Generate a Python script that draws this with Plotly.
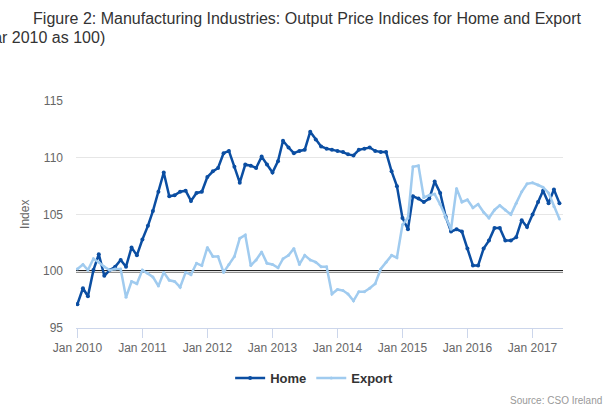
import pandas as pd
import plotly.graph_objects as go

months = pd.date_range("2010-01-01", "2017-06-01", freq="MS")

home = [97.1, 98.5, 97.8, 100.1, 101.5, 99.6, 100.1, 100.4, 101.0, 100.4, 102.1, 101.4,
        102.8, 104.0, 105.3, 107.0, 108.7, 106.6, 106.7, 107.0, 107.1, 106.2, 106.9, 107.0,
        108.3, 108.8, 109.1, 110.4, 110.6, 109.2, 107.8, 109.4, 109.3, 109.1, 110.1, 109.4,
        108.7, 109.7, 111.5, 110.9, 110.4, 110.6, 110.7, 112.3, 111.6, 111.0, 110.8, 110.7,
        110.6, 110.5, 110.3, 110.2, 110.7, 110.8, 110.9, 110.6, 110.5, 110.5, 108.8, 107.5,
        104.7, 103.7, 106.6, 106.4, 106.1, 106.4, 107.9, 106.9, 104.8, 103.5, 103.7, 103.5,
        102.0, 100.5, 100.5, 102.0, 102.7, 103.8, 103.8, 102.7, 102.7, 103.0, 104.5, 103.9,
        105.0, 106.1, 107.1, 106.0, 107.2, 106.0]

export = [100.2, 100.6, 100.1, 101.1, 100.8, 100.4, 100.1, 100.2, 100.2, 97.7, 99.1, 98.9,
          100.1, 99.8, 99.5, 98.7, 99.9, 99.2, 99.1, 98.6, 99.9, 99.7, 100.7, 100.5,
          102.1, 101.3, 101.3, 99.9, 100.6, 101.3, 102.9, 103.2, 100.5, 101.0, 101.7, 100.7,
          100.6, 100.3, 101.1, 101.4, 102.0, 100.6, 101.4, 101.0, 100.8, 100.4, 100.4, 98.0,
          98.4, 98.3, 98.0, 97.4, 98.2, 98.2, 98.5, 98.9, 100.2, 100.8, 101.4, 101.2,
          104.1, 104.7, 109.2, 109.3, 106.5, 106.7, 106.8, 105.9, 104.7, 103.7, 107.3, 106.1,
          106.3, 105.6, 105.9, 105.2, 104.7, 105.4, 105.8, 105.4, 105.0, 106.0, 107.0, 107.7,
          107.8, 107.6, 107.4, 106.9, 105.7, 104.6]

tick_dates = pd.date_range("2010-01-01", "2017-01-01", freq="YS")
tick_labels = [d.strftime("Jan %Y") for d in tick_dates]

HOME_C = "#0b4ea2"
EXPORT_C = "#a0cbef"
FONT = "Liberation Sans, Arial, sans-serif"

fig = go.Figure()
fig.add_trace(go.Scatter(x=months, y=home, name="Home", mode="lines+markers",
                         line=dict(color=HOME_C, width=2.5),
                         marker=dict(color=HOME_C, size=4)))
fig.add_trace(go.Scatter(x=months, y=export, name="Export", mode="lines+markers",
                         line=dict(color=EXPORT_C, width=2.5),
                         marker=dict(color=EXPORT_C, size=3)))

fig.add_shape(type="line", xref="paper", x0=0, x1=1, yref="y", y0=100, y1=100,
              line=dict(color="#222222", width=2.5), layer="between")

fig.update_layout(
    width=614, height=409,
    margin=dict(l=76, r=51, t=101, b=81),
    paper_bgcolor="white", plot_bgcolor="white",
    font=dict(family=FONT, color="#666666", size=12),
    title=dict(text="Figure 2: Manufacturing Industries: Output Price Indices for Home and Export",
               x=0.5, xref="container", xanchor="center",
               y=1 - 18 / 409, yref="container", yanchor="middle",
               font=dict(family=FONT, size=16, color="#333333")),
    showlegend=True,
    legend=dict(orientation="h", x=0.489, xanchor="center", y=-0.22, yanchor="middle",
                font=dict(family=FONT, size=13, color="#333333", weight="bold"),
                itemwidth=30, bgcolor="rgba(0,0,0,0)"),
    xaxis=dict(range=["2009-12-24", "2017-06-21"], tickvals=tick_dates, ticktext=tick_labels,
               showgrid=False, showline=True, linecolor="#ccd6eb", linewidth=1,
               ticks="outside", ticklen=9, tickcolor="#ccd6eb",
               tickfont=dict(size=12, color="#666666"), zeroline=False),
    yaxis=dict(range=[95, 115], dtick=5, tick0=95, showgrid=True, gridcolor="#e6e6e6",
               gridwidth=1, zeroline=False, showline=False, ticks="",
               ticklabelstandoff=12, tickfont=dict(size=12, color="#666666")),
    annotations=[
        dict(text="(Base year 2010 as 100)", xref="paper", yref="paper",
             x=(107 - 76) / 487, y=1 + (101 - 37) / 227, xanchor="right", yanchor="middle",
             showarrow=False, font=dict(family=FONT, size=16, color="#333333")),
        dict(text="Index", xref="paper", yref="paper", x=(25 - 76) / 487, y=0.498,
             textangle=-90, xanchor="center", yanchor="middle", showarrow=False,
             font=dict(family=FONT, size=12, color="#666666")),
        dict(text="Source: CSO Ireland", xref="paper", yref="paper",
             x=(604 - 76) / 487, y=-(400 - 328) / 227, xanchor="right", yanchor="middle",
             showarrow=False, font=dict(family=FONT, size=10, color="#999999")),
    ],
)

fig.write_html("out.html", config={"displayModeBar": False},
               post_script="document.body.style.margin='0';document.body.style.padding='0';")
